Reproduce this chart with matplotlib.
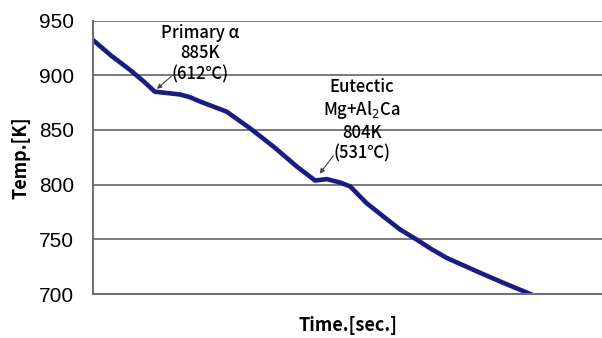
import numpy as np
import matplotlib
matplotlib.use("Agg")
from matplotlib import pyplot as plt

# cooling curve, time in arbitrary units (no x tick labels on the original)
time = [0.0, 3.5, 7.2, 10.0, 12.1, 14.1, 17.0, 19.0, 21.0, 26.2, 30.8, 35.4,
        40.0, 43.6, 45.9, 48.5, 50.5, 53.7, 57.0, 60.3, 63.5, 66.5,
        69.5, 76.0, 81.0, 86.2]
temp = [932, 918, 905, 894, 885, 884, 882.5, 880, 876, 866.8, 851.6, 834.9,
        816.6, 803.8, 805.1, 802, 798.4, 783.2, 771, 759, 750, 741,
        733, 719.5, 709.5, 699.5]

yticks = [700, 750, 800, 850, 900, 950]

jp = ['Noto Sans CJK JP', 'DejaVu Sans']

fig = plt.figure(figsize=(6.02, 3.38), dpi=100)
ax = fig.add_axes([0.155, 0.130, 0.845, 0.809])

ax.plot(time, temp, color='#1a1a8a', linewidth=3.3, solid_capstyle='round',
        solid_joinstyle='round')

ax.set_xlim(0, 100)
ax.set_ylim(700, 950)
ax.set_yticks(yticks)
ax.set_xticks([])
ax.yaxis.grid(True, color='#707070', linewidth=1.3)
ax.set_axisbelow(True)
ax.tick_params(axis='y', length=0, pad=14, labelsize=15)
for lab in ax.get_yticklabels():
    lab.set_family('Liberation Sans')

for s in ['top', 'right']:
    ax.spines[s].set_visible(False)
ax.spines['left'].set_color('#707070')
ax.spines['left'].set_linewidth(1.5)
ax.spines['bottom'].set_color('#707070')
ax.spines['bottom'].set_linewidth(1.5)

ax.set_ylabel('Temp.[K]', family=jp, fontsize=13, fontweight='bold', labelpad=6)
ax.set_xlabel('Time.[sec.]', family=jp, fontsize=13, fontweight='bold', labelpad=16)

ax.annotate('Primary α\n885K\n(612℃)', xy=(12.5, 887.5), xytext=(20.9, 920),
            family=jp, fontsize=12, fontweight='medium', ha='center', va='center',
            linespacing=1.2,
            arrowprops=dict(arrowstyle='-|>', color='#444444', lw=0.8,
                            mutation_scale=7, shrinkA=0, shrinkB=0, patchA=None,
                            relpos=(0.14, 0.12)))

ax.annotate('Eutectic\nMg+Al$_2$Ca\n804K\n(531℃)', xy=(44.5, 810), xytext=(52.8, 859),
            family=jp, fontsize=12, fontweight='medium', ha='center', va='center',
            linespacing=1.2,
            arrowprops=dict(arrowstyle='-|>', color='#444444', lw=0.8,
                            mutation_scale=7, shrinkA=0, shrinkB=0, patchA=None,
                            relpos=(0.13, 0.08)))

fig.savefig('out.png', dpi=100)
